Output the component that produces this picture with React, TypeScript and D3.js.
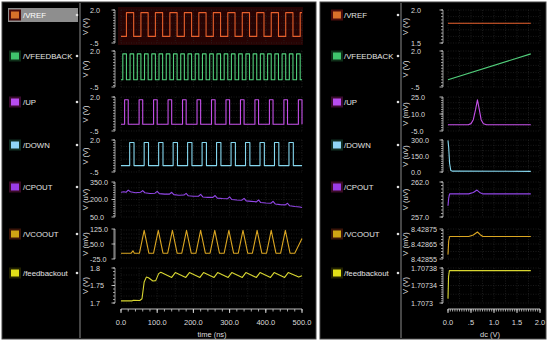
import { useEffect, useRef } from 'react';
import * as d3 from 'd3';

type Pt = [number, number];

// signal list shared by both panels
const signalNames = ["/VREF", "/VFEEDBACK", "/UP", "/DOWN", "/CPOUT", "/VCOOUT", "/feedbackout"];
const tranUnits = ["V (V)", "V (V)", "V (V)", "V (V)", "V (uV)", "V (mV)", "V (V)"];
const dcUnits = ["V (V)", "V (V)", "V (mV)", "V (uV)", "V (uV)", "V (mV)", "V (V)"];

// y tick labels, transient panel
const tranTickValues = [[2.0, -0.5], [2.0, -0.5], [2.0, -0.5], [2.0, -0.5], [350, 200, 50], [125, 50, -25], [1.8, 1.75, 1.7]];
const tranTickLabels = [["2.0", "-.5"], ["2.0", "-.5"], ["2.0", "-.5"], ["2.0", "-.5"], ["350.0", "200.0", "50.0"], ["125.0", "50.0", "-25.0"], ["1.8", "1.75", "1.7"]];

// y tick labels, dc panel
const dcTickValues = [[2.0, 1.5], [2.0, -0.5], [25, 10, -5], [300, 150, 0], [262, 257], [8.42875, 8.42865, 8.42855], [1.70738, 1.70734, 1.7073]];
const dcTickLabels = [["2.0", "1.5"], ["2.0", "-.5"], ["25.0", "10.0", "-5.0"], ["300.0", "150.0", "0.0"], ["262.0", "257.0"], ["8.42875", "8.42865", "8.42855"], ["1.70738", "1.70734", "1.7073"]];

// x axes
const timeTicks = [0, 100, 200, 300, 400, 500];
const timeTickLabels = ["0.0", "100.0", "200.0", "300.0", "400.0", "500.0"];
const dcTicks = [0, 0.5, 1.0, 1.5, 2.0];
const dcTickLabels2 = ["0.0", ".5", "1.0", "1.5", "2.0"];

// transient: edge times (ns)
const vrefRise = [15, 55, 95, 135, 175, 215, 255, 295, 335, 375, 415, 455, 495];
const vrefFall = [35, 75, 115, 155, 195, 235, 275, 315, 355, 395, 435, 475];
const vfbRise = [5, 25, 45, 65, 85, 105, 125, 145, 165, 185, 205, 225, 245, 265, 285, 305, 325, 345, 365, 385, 405, 425, 445, 465, 485];
const vfbFall = [15, 35, 55, 75, 95, 115, 135, 155, 175, 195, 215, 235, 255, 275, 295, 315, 335, 355, 375, 395, 415, 435, 455, 475, 495];
const upRise = [10, 50, 90, 130, 170, 210, 250, 290, 330, 370, 410, 450, 490];
const upFall = [20, 60, 100, 140, 180, 220, 260, 300, 340, 380, 420, 460, 500];
const downRise = [24, 64, 104, 144, 184, 224, 264, 304, 344, 384, 424, 464];
const downFall = [36, 76, 116, 156, 196, 236, 276, 316, 356, 396, 436, 476];

// transient: CPOUT (uV)
const cpoutTrace: Pt[] = [
  [0, 262], [8, 266], [14, 262], [20, 280], [26, 266], [40, 258], [54, 262], [60, 276], [66, 258], [80, 252],
  [94, 254], [100, 270], [106, 250], [120, 246], [134, 246], [140, 262], [146, 242], [160, 236], [174, 238],
  [180, 252], [186, 232], [200, 228], [214, 228], [220, 244], [226, 222], [240, 218], [254, 218], [260, 234],
  [266, 212], [280, 208], [294, 206], [300, 222], [306, 200], [320, 196], [334, 194], [340, 210], [346, 188],
  [360, 184], [374, 180], [380, 196], [386, 174], [400, 170], [414, 168], [420, 184], [426, 162], [440, 156],
  [454, 154], [460, 168], [466, 146], [480, 140], [494, 136], [500, 132],
];

// transient: VCOOUT (mV)
const vcooutTrace: Pt[] = [
  [0, 4], [28, 4], [33, 16], [37, 4], [51, 4], [64, 118], [77, 4], [90, 4], [103, 118], [116, 4], [129, 4],
  [142, 118], [155, 4], [168, 4], [181, 118], [194, 4], [207, 4], [220, 118], [233, 4], [246, 4], [259, 118],
  [272, 4], [285, 4], [298, 118], [311, 4], [324, 4], [337, 118], [350, 4], [363, 4], [376, 118], [389, 4],
  [402, 4], [415, 118], [428, 4], [441, 4], [454, 118], [467, 4], [480, 4], [500, 78],
];

// transient: feedbackout (V)
const feedbackoutTrace: Pt[] = [
  [0, 1.706], [30, 1.706], [34, 1.708], [52, 1.707], [58, 1.712], [64, 1.76], [70, 1.774], [76, 1.772],
  [88, 1.763], [96, 1.764], [104, 1.784], [110, 1.788], [140, 1.773], [150, 1.787], [179, 1.773], [189, 1.787],
  [218, 1.773], [228, 1.787], [257, 1.773], [267, 1.787], [296, 1.773], [306, 1.787], [335, 1.773], [345, 1.787],
  [374, 1.773], [384, 1.787], [413, 1.773], [423, 1.787], [452, 1.773], [462, 1.787], [491, 1.774], [500, 1.778],
];

// dc sweep traces
const dcVref: Pt[] = [[0, 1.8], [1.8, 1.8]];
const dcVfeedback: Pt[] = [[0, 0], [1.8, 1.8]];
const dcUp: Pt[] = [[0, 0.5], [0.44, 0.5], [0.5, 1.5], [0.55, 5], [0.6, 14], [0.64, 22.5], [0.68, 14], [0.72, 5], [0.77, 1.4], [0.84, 0.5], [1.8, 0.5]];
const dcDown: Pt[] = [[0, 295], [0.015, 230], [0.035, 80], [0.06, 15], [0.1, 8], [1.8, 6]];
const dcCpout: Pt[] = [[0, 258.6], [0.015, 259.7], [0.035, 260.3], [0.45, 260.3], [0.55, 260.5], [0.63, 260.85], [0.7, 260.45], [0.76, 260.3], [1.8, 260.3]];
const dcVcoout: Pt[] = [[0, 8.42858], [0.015, 8.42867], [0.035, 8.4287], [0.45, 8.4287], [0.55, 8.42871], [0.64, 8.42873], [0.7, 8.428712], [0.76, 8.4287], [1.8, 8.4287]];
const dcFeedbackout: Pt[] = [[0, 1.70731], [0.012, 1.70736], [0.03, 1.707374], [1.8, 1.707374]];

const traceColors = ["#e8602c", "#52d07c", "#c650ea", "#86d8f0", "#9246e8", "#dba622", "#d8d630"];
const swatchColors = ["#d8702a", "#3fc46c", "#b84cf0", "#8fd6f6", "#9a3ce6", "#cfa414", "#e2e018"];
const swatchFrames = ["#4a0c0c", "#0e2e18", "#3a0c2e", "#102e22", "#3a0c26", "#3a1408", "#222200"];

const stripTops = [10, 51, 97, 140, 182, 229, 268];
const stripBots = [43, 87, 131, 172, 217, 259, 303];
const FONT = "'Liberation Sans', Arial, sans-serif";

function squareWave(rise: number[], fall: number[], hi: number, end: number): Pt[] {
  const edges = [...rise.map((t) => [t, hi] as Pt), ...fall.map((t) => [t, 0] as Pt)].sort((a, b) => a[0] - b[0]);
  const pts: Pt[] = [[0, 0], ...edges];
  pts.push([end, pts[pts.length - 1][1]]);
  return pts;
}

interface PanelCfg {
  x: number; w: number; divX: number;
  swatchX: number; textX: number; dotX: number;
  unitX: number; tickX: number; rulerX: number;
  plotX0: number; plotX1: number;
  xDomain: [number, number]; xTicks: number[]; xLabels: string[]; xMinorStep: number; xGridStep: number;
  title: string; titleX: number;
  units: string[]; tickValues: number[][]; tickLabels: string[][];
  traces: Pt[][]; stepped: boolean[]; selected: number;
}

function drawPanel(root: d3.Selection<SVGSVGElement, unknown, null, undefined>, cfg: PanelCfg) {
  const g = root.append('g');
  g.append('rect').attr('x', cfg.x).attr('y', 2).attr('width', cfg.w).attr('height', 337)
    .attr('fill', '#000').attr('stroke', '#444').attr('stroke-width', 1);
  g.append('line').attr('x1', cfg.divX).attr('x2', cfg.divX).attr('y1', 3).attr('y2', 338)
    .attr('stroke', '#8c8c8c').attr('stroke-width', 1);

  const x = d3.scaleLinear().domain(cfg.xDomain).range([cfg.plotX0, cfg.plotX1]);
  const xEnd = cfg.xDomain[1];
  const gridX = d3.range(cfg.xDomain[0], xEnd + 1e-9, cfg.xGridStep);

  signalNames.forEach((name, i) => {
    const top = stripTops[i];
    const bot = stripBots[i];
    const vals = cfg.tickValues[i];
    const y = d3.scaleLinear().domain([d3.min(vals)!, d3.max(vals)!]).range([bot, top]);

    if (i === cfg.selected) {
      g.append('rect').attr('x', cfg.plotX0 - 3).attr('y', top - 3).attr('width', cfg.plotX1 - cfg.plotX0 + 4)
        .attr('height', bot - top + 5).attr('fill', '#260303');
    }

    // grid
    g.append('g').selectAll('line').data(gridX).enter().append('line')
      .attr('x1', (d) => x(d)).attr('x2', (d) => x(d)).attr('y1', top).attr('y2', bot)
      .attr('stroke', '#2c2c2c').attr('stroke-width', 0.6).attr('stroke-dasharray', '1,1.5');
    g.append('g').selectAll('line').data(y.ticks(5)).enter().append('line')
      .attr('x1', cfg.plotX0).attr('x2', cfg.plotX1).attr('y1', (d) => y(d)).attr('y2', (d) => y(d))
      .attr('stroke', '#2c2c2c').attr('stroke-width', 0.6).attr('stroke-dasharray', '1,1.5');

    // ruler
    g.append('line').attr('x1', cfg.rulerX).attr('x2', cfg.rulerX).attr('y1', top).attr('y2', bot)
      .attr('stroke', '#bdbdbd').attr('stroke-width', 0.8);
    g.append('g').selectAll('line').data(y.ticks(14)).enter().append('line')
      .attr('x1', cfg.rulerX - 2).attr('x2', cfg.rulerX).attr('y1', (d) => y(d)).attr('y2', (d) => y(d))
      .attr('stroke', '#bdbdbd').attr('stroke-width', 0.8);
    g.append('g').selectAll('line').data(vals).enter().append('line')
      .attr('x1', cfg.rulerX - 3.5).attr('x2', cfg.rulerX).attr('y1', (d) => y(d)).attr('y2', (d) => y(d))
      .attr('stroke', '#d8d8d8').attr('stroke-width', 0.8);

    // tick labels
    g.append('g').selectAll('text').data(vals).enter().append('text')
      .attr('x', cfg.tickX).attr('y', (d) => y(d)).attr('dy', '0.35em')
      .attr('fill', '#dcdcdc').attr('font-size', 7.2).attr('font-family', FONT)
      .text((_, k) => cfg.tickLabels[i][k]);

    // unit label
    g.append('text').attr('transform', `translate(${cfg.unitX},${(top + bot) / 2}) rotate(-90)`)
      .attr('text-anchor', 'middle').attr('dy', '0.35em').attr('fill', '#dcdcdc')
      .attr('font-size', 7.5).attr('font-family', FONT).text(cfg.units[i]);

    // legend entry
    const ly = top + 5;
    if (i === cfg.selected) {
      g.append('rect').attr('x', cfg.swatchX - 3).attr('y', ly - 7).attr('width', cfg.divX - cfg.swatchX + 1)
        .attr('height', 14).attr('fill', '#8e8e8e');
    }
    g.append('rect').attr('x', cfg.swatchX - 2).attr('y', ly - 5.5).attr('width', 12).attr('height', 11)
      .attr('fill', swatchFrames[i]);
    g.append('rect').attr('x', cfg.swatchX).attr('y', ly - 3.5).attr('width', 8).attr('height', 7)
      .attr('fill', swatchColors[i]);
    g.append('text').attr('x', cfg.textX).attr('y', ly).attr('dy', '0.35em')
      .attr('fill', i === cfg.selected ? '#ffffff' : '#e4e4e4').attr('font-size', 7.8).attr('font-family', FONT)
      .text(name);
    g.append('circle').attr('cx', cfg.dotX).attr('cy', ly).attr('r', 1.3).attr('fill', '#e0e0e0');

    // trace
    const line = d3.line<Pt>().x((d) => x(d[0])).y((d) => y(d[1]))
      .curve(cfg.stepped[i] ? d3.curveStepAfter : d3.curveLinear);
    g.append('path').datum(cfg.traces[i]).attr('d', line).attr('fill', 'none')
      .attr('stroke', traceColors[i]).attr('stroke-width', 1.1).attr('stroke-linejoin', 'round');
  });

  // x axis
  const axisY = 309;
  g.append('line').attr('x1', cfg.plotX0).attr('x2', cfg.plotX1).attr('y1', axisY).attr('y2', axisY)
    .attr('stroke', '#d0d0d0').attr('stroke-width', 0.9);
  const minor = d3.range(cfg.xDomain[0], xEnd + 1e-9, cfg.xMinorStep);
  g.append('g').selectAll('line').data(minor).enter().append('line')
    .attr('x1', (d) => x(d)).attr('x2', (d) => x(d)).attr('y1', axisY).attr('y2', axisY + 2.5)
    .attr('stroke', '#d0d0d0').attr('stroke-width', 0.8);
  g.append('g').selectAll('line').data(cfg.xTicks).enter().append('line')
    .attr('x1', (d) => x(d)).attr('x2', (d) => x(d)).attr('y1', axisY).attr('y2', axisY + 4)
    .attr('stroke', '#e0e0e0').attr('stroke-width', 0.9);
  g.append('g').selectAll('text').data(cfg.xTicks).enter().append('text')
    .attr('x', (d) => x(d)).attr('y', 322).attr('dy', '0.35em').attr('text-anchor', 'middle')
    .attr('fill', '#dcdcdc').attr('font-size', 7.5).attr('font-family', FONT)
    .text((_, k) => cfg.xLabels[k]);
  g.append('text').attr('x', cfg.titleX).attr('y', 334).attr('dy', '0.35em').attr('text-anchor', 'middle')
    .attr('fill', '#dcdcdc').attr('font-size', 7.5).attr('font-family', FONT).text(cfg.title);
}

export default function App() {
  const svgRef = useRef<SVGSVGElement>(null);

  useEffect(() => {
    if (!svgRef.current) return;
    const svg = d3.select(svgRef.current);
    svg.selectAll('*').remove();
    svg.append('rect').attr('width', 550).attr('height', 343).attr('fill', '#ffffff');

    drawPanel(svg, {
      x: 2, w: 314, divX: 80,
      swatchX: 11, textX: 23, dotX: 77,
      unitX: 85, tickX: 90, rulerX: 115,
      plotX0: 121, plotX1: 302,
      xDomain: [0, 500], xTicks: timeTicks, xLabels: timeTickLabels, xMinorStep: 20, xGridStep: 50,
      title: 'time (ns)', titleX: 212,
      units: tranUnits, tickValues: tranTickValues, tickLabels: tranTickLabels,
      traces: [
        squareWave(vrefRise, vrefFall, 1.8, 500),
        squareWave(vfbRise, vfbFall, 1.8, 500),
        squareWave(upRise, upFall, 1.8, 500),
        squareWave(downRise, downFall, 1.8, 500),
        cpoutTrace, vcooutTrace, feedbackoutTrace,
      ],
      stepped: [true, true, true, true, false, false, false],
      selected: 0,
    });

    drawPanel(svg, {
      x: 320, w: 226, divX: 401,
      swatchX: 333, textX: 344, dotX: 398,
      unitX: 405, tickX: 411, rulerX: 443,
      plotX0: 448, plotX1: 540,
      xDomain: [0, 2], xTicks: dcTicks, xLabels: dcTickLabels2, xMinorStep: 0.05, xGridStep: 0.25,
      title: 'dc (V)', titleX: 490,
      units: dcUnits, tickValues: dcTickValues, tickLabels: dcTickLabels,
      traces: [dcVref, dcVfeedback, dcUp, dcDown, dcCpout, dcVcoout, dcFeedbackout],
      stepped: [false, false, false, false, false, false, false],
      selected: -1,
    });
  }, []);

  return (
    <svg ref={svgRef} width={550} height={343}
      style={{ position: 'absolute', left: 0, top: 0, display: 'block' }} />
  );
}
